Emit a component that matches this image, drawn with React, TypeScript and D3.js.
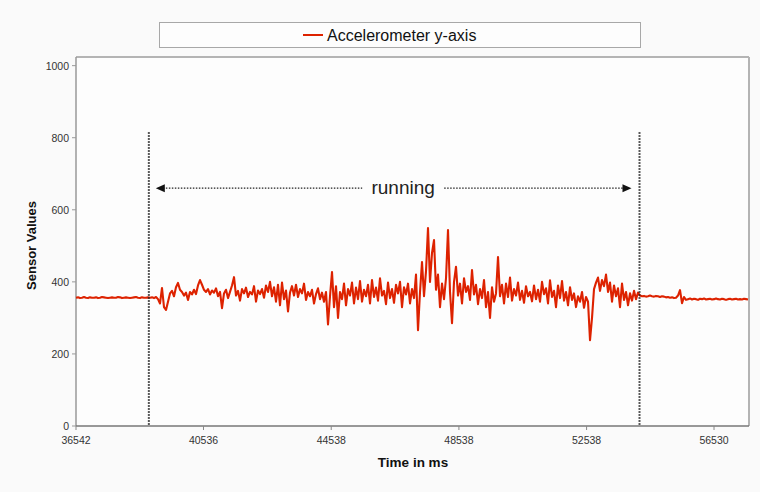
import React from "react";
import * as d3 from "d3";

// ---- data ----
const SAMPLE_START_MS = 36542;
const SAMPLE_STEP_MS = 62.658;
const X_DOMAIN = [36542, 57626];
const Y_DOMAIN = [0, 1024];

const flatStart = [
  356, 357, 355, 356, 358, 356, 355, 357, 356, 356, 357, 355, 356, 358, 357, 356, 355, 356, 357, 356,
  356, 358, 357, 355, 356, 357, 356, 355, 356, 357, 358, 356, 355, 357, 356, 356, 357,
];

const running = [
  356, 357, 355, 358, 352, 340, 383, 330, 322, 345, 368, 375, 360, 385, 397, 378, 372, 362, 370, 350,
  372, 365, 378, 366, 390, 405, 392, 378, 372, 380, 365, 376, 370, 382, 360, 372, 327, 368, 378, 355,
  372, 390, 413, 362, 375, 348, 380, 368, 384, 358, 372, 365, 388, 345, 376, 366, 380, 356, 390, 372,
  400, 360, 385, 345, 392, 335, 398, 352, 376, 318, 370, 388, 362, 392, 358, 380, 368, 395, 350, 372,
  360, 378, 340, 366, 382, 352, 370, 345, 372, 282, 360, 427, 330, 388, 300, 372, 352, 395, 335, 380,
  362, 398, 340, 384, 352, 402, 345, 378, 360, 392, 340, 405, 358, 384, 348, 410, 362, 375, 338, 398,
  355, 380, 342, 392, 368, 400, 330, 385, 365, 395, 340, 380, 355, 420, 266, 372, 455, 360, 430, 549,
  400, 480, 516, 378, 420, 330, 395, 352, 410, 544, 372, 285, 400, 442, 362, 395, 340, 410, 372, 388,
  350, 433, 365, 392, 338, 380, 355, 405, 330, 372, 300, 385, 345, 368, 469, 360, 392, 340, 395, 358,
  412, 348, 380, 362, 398, 350, 375, 342, 388, 360, 372, 346, 390, 352, 378, 345, 400, 366, 382, 340,
  404, 358, 375, 330, 390, 355, 402, 348, 372, 335, 385, 350, 368, 330, 360, 345, 372, 328, 358, 345,
  238, 300, 380, 398, 412, 375, 405, 388, 420, 372, 398, 345, 390, 360, 382, 330, 395, 350, 372, 335,
  368, 348, 375, 352, 370,
];

const flatEnd = [
  362, 360, 361, 359, 360, 362, 360, 359, 361, 360, 358, 360, 359, 357, 358, 356, 357, 355, 356, 362,
  377, 341, 358, 350, 352, 354, 351, 353, 352, 350, 353, 352, 354, 351, 352, 353, 351, 352, 354, 352,
  351, 353, 352, 350, 352, 353, 351, 352, 353, 351, 352, 351, 353, 352, 351,
];

const sensorValues = [...flatStart, ...running, ...flatEnd];

const xTickLabels = [36542, 40536, 44538, 48538, 52538, 56530];
const yTicks = [0, 200, 400, 600, 800, 1000];
const runningStartMs = 38824;
const runningEndMs = 54196;
const runningLabelLevel = 660;
const markerTop = 815;

const seriesName = "Accelerometer y-axis";

export default function App() {
  const W = 760;
  const H = 492;
  const left = 76;
  const right = 749;
  const top = 57;
  const bottom = 426;

  const x = d3.scaleLinear().domain(X_DOMAIN).range([left, right]);
  const y = d3.scaleLinear().domain(Y_DOMAIN).range([bottom, top]);

  const pts = sensorValues.map((v, i) => [SAMPLE_START_MS + i * SAMPLE_STEP_MS, v] as [number, number]);
  const line = d3
    .line<[number, number]>()
    .x((d) => x(d[0]))
    .y((d) => y(d[1]));

  const red = "#dd2200";
  const font = "'Liberation Sans', Arial, sans-serif";
  const xs = x(runningStartMs);
  const xe = x(runningEndMs);
  const ay = y(runningLabelLevel);
  const midX = (xs + xe) / 2 + 9;

  return (
    <svg
      width={W}
      height={H}
      style={{ position: "absolute", left: 0, top: 0, background: "#fafafa" }}
      fontFamily={font}
    >
      <rect x={0} y={0} width={W} height={H} fill="#fafafa" />
      {/* legend */}
      <rect x={159.5} y={22.5} width={481} height={25} fill="#fdfdfd" stroke="#a8a8a8" strokeWidth={1} />
      <line x1={303} x2={323} y1={35} y2={35} stroke={red} strokeWidth={2} />
      <text x={327} y={41} fontSize={16} fill="#111">
        {seriesName}
      </text>

      {/* plot area */}
      <rect x={left} y={top} width={right - left} height={bottom - top} fill="#fdfdfd" />
      <line x1={left} x2={right} y1={top} y2={top} stroke="#b4b4b4" strokeWidth={2} />
      <line x1={right} x2={right} y1={top} y2={bottom} stroke="#b4b4b4" strokeWidth={2} />
      <line x1={left} x2={left} y1={top} y2={bottom} stroke="#999" strokeWidth={1.5} />

      {/* y ticks */}
      {yTicks.map((t) => (
        <g key={t}>
          <line x1={left - 4} x2={left} y1={y(t)} y2={y(t)} stroke="#999" strokeWidth={1} />
          <text x={left - 7} y={y(t) + 4} fontSize={10.5} textAnchor="end" fill="#333">
            {t}
          </text>
        </g>
      ))}
      <text
        transform={`translate(36,${(top + bottom) / 2 + 4}) rotate(-90)`}
        textAnchor="middle"
        fontSize={13}
        fontWeight="bold"
        fill="#111"
      >
        Sensor Values
      </text>

      {/* data line */}
      <path d={line(pts) || ""} fill="none" stroke={red} strokeWidth={2.1} strokeLinejoin="round" />

      {/* x axis */}
      <line x1={left} x2={right} y1={bottom} y2={bottom} stroke="#777" strokeWidth={1.5} />
      {xTickLabels.map((t) => (
        <g key={t}>
          <line x1={x(t)} x2={x(t)} y1={bottom} y2={bottom + 4} stroke="#888" strokeWidth={1} />
          <text x={x(t)} y={bottom + 18} fontSize={10.5} textAnchor="middle" fill="#333">
            {t}
          </text>
        </g>
      ))}
      <text x={413} y={467} fontSize={13.5} fontWeight="bold" textAnchor="middle" fill="#111">
        Time in ms
      </text>

      {/* running annotation */}
      {[runningStartMs, runningEndMs].map((t) => (
        <line
          key={t}
          x1={x(t)}
          x2={x(t)}
          y1={y(markerTop)}
          y2={bottom}
          stroke="#222"
          strokeWidth={2}
          strokeDasharray="1.5,1.5"
        />
      ))}
      <line x1={xs + 14} x2={midX - 41} y1={ay} y2={ay} stroke="#222" strokeWidth={1.3} strokeDasharray="1.5,1.5" />
      <line x1={midX + 41} x2={xe - 14} y1={ay} y2={ay} stroke="#222" strokeWidth={1.3} strokeDasharray="1.5,1.5" />
      <path d={`M${xs + 7},${ay} L${xs + 16},${ay - 4} L${xs + 16},${ay + 4} Z`} fill="#111" />
      <path d={`M${xe - 8},${ay} L${xe - 17},${ay - 4} L${xe - 17},${ay + 4} Z`} fill="#111" />
      <text x={midX} y={ay + 6} fontSize={19} textAnchor="middle" fill="#222">
        running
      </text>
    </svg>
  );
}
